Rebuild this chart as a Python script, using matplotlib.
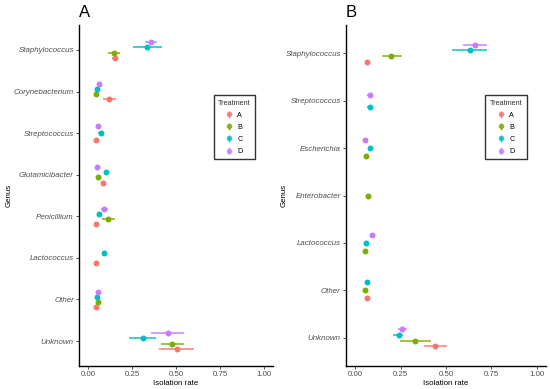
import numpy as np
import matplotlib
matplotlib.use("Agg")
import matplotlib.pyplot as plt

plt.rcParams['font.family'] = ['Liberation Sans', 'DejaVu Sans']

treatments = ['A', 'B', 'C', 'D']
colors = ['#F8766D', '#7CAE00', '#00BFC4', '#C77CFF']
nan = np.nan

# Panel A (top to bottom)
genera_a = ['Staphylococcus', 'Corynebacterium', 'Streptococcus', 'Glutamicibacter',
            'Penicillium', 'Lactococcus', 'Other', 'Unknown']
mean_a = {
    'A': [0.155, 0.121, 0.045, 0.089, 0.045, 0.045, 0.045, 0.504],
    'B': [0.146, 0.049, nan, 0.059, 0.115, nan, 0.055, 0.479],
    'C': [0.337, 0.051, 0.072, 0.106, 0.061, 0.093, 0.053, 0.312],
    'D': [0.358, 0.061, 0.055, 0.051, 0.093, nan, 0.059, 0.453],
}
lo_a = {
    'A': [0.140, 0.087, 0.045, 0.089, 0.045, 0.045, 0.045, 0.403],
    'B': [0.112, 0.049, nan, 0.059, 0.081, nan, 0.055, 0.415],
    'C': [0.258, 0.051, 0.057, 0.106, 0.061, 0.093, 0.053, 0.235],
    'D': [0.323, 0.061, 0.055, 0.051, 0.072, nan, 0.059, 0.358],
}
hi_a = {
    'A': [0.172, 0.159, 0.045, 0.089, 0.045, 0.045, 0.045, 0.604],
    'B': [0.184, 0.049, nan, 0.059, 0.152, nan, 0.055, 0.547],
    'C': [0.420, 0.051, 0.093, 0.106, 0.061, 0.093, 0.053, 0.388],
    'D': [0.393, 0.061, 0.055, 0.051, 0.112, nan, 0.059, 0.544],
}

# Panel B (top to bottom)
genera_b = ['Staphylococcus', 'Streptococcus', 'Escherichia', 'Enterobacter',
            'Lactococcus', 'Other', 'Unknown']
mean_b = {
    'A': [0.066, nan, nan, nan, nan, 0.064, 0.441],
    'B': [0.200, nan, 0.060, 0.073, 0.053, 0.055, 0.330],
    'C': [0.630, 0.080, 0.082, nan, 0.058, 0.066, 0.239],
    'D': [0.657, 0.080, 0.053, nan, 0.091, nan, 0.260],
}
lo_b = {
    'A': [0.066, nan, nan, nan, nan, 0.064, 0.377],
    'B': [0.146, nan, 0.060, 0.073, 0.053, 0.055, 0.246],
    'C': [0.534, 0.068, 0.074, nan, 0.058, 0.066, 0.206],
    'D': [0.592, 0.068, 0.053, nan, 0.082, nan, 0.235],
}
hi_b = {
    'A': [0.066, nan, nan, nan, nan, 0.064, 0.504],
    'B': [0.259, nan, 0.060, 0.073, 0.053, 0.055, 0.415],
    'C': [0.725, 0.092, 0.090, nan, 0.058, 0.066, 0.266],
    'D': [0.725, 0.092, 0.053, nan, 0.100, nan, 0.288],
}


def draw_panel(ax, genera, mean, lo, hi, letter, legend_pos, ylab_x):
    n_gen = len(genera)
    base = np.arange(n_gen)[::-1]  # top genus gets the highest y
    for i in range(n_gen):
        present = [t for t in treatments if not np.isnan(mean[t][i])]
        n = len(present)
        for k, t in enumerate(present):
            y = base[i] + (k - (n - 1) / 2) * 0.5 / n
            c = colors[treatments.index(t)]
            ax.plot([lo[t][i], hi[t][i]], [y, y], color=c, lw=1.4, alpha=0.75,
                    solid_capstyle='butt')
            ax.plot(mean[t][i], y, 'o', color=c, ms=4.3, mec='none')
    ax.set_xlim(-0.05, 1.05)
    ax.set_ylim(-0.6, n_gen - 0.4)
    ax.set_xticks([0, 0.25, 0.5, 0.75, 1.0])
    ax.set_xticklabels(['0.00', '0.25', '0.50', '0.75', '1.00'])
    ax.set_yticks(base)
    ax.set_yticklabels(genera, style='italic')
    ax.tick_params(axis='both', labelsize=5.7, colors='#333333', length=2.5,
                   width=0.6, pad=1.2)
    ax.tick_params(axis='both', labelcolor='#4d4d4d')
    for s in ['top', 'right']:
        ax.spines[s].set_visible(False)
    for s in ['left', 'bottom']:
        ax.spines[s].set_linewidth(1.0)
        ax.spines[s].set_color('black')
    ax.set_xlabel('Isolation rate', fontsize=5.7, labelpad=1.0)
    ax.set_ylabel('Genus', fontsize=5.7)
    ax.yaxis.set_label_coords(ylab_x, 0.5)
    ax.text(0.0, 1.015, letter, transform=ax.transAxes, fontsize=12,
            ha='left', va='bottom')
    # legend with vertical error-bar keys like ggplot
    handles = []
    for t, c in zip(treatments, colors):
        h = ax.errorbar([nan], [nan], yerr=[1], fmt='o', color=c, ms=4,
                        mec='none', elinewidth=0.9, ecolor=c, alpha=0.85)
        handles.append(h)
    leg = ax.legend(handles, treatments, title='Treatment', loc='center',
                    bbox_to_anchor=legend_pos, fontsize=5.2, title_fontsize=5.2,
                    frameon=True, fancybox=False, handlelength=1.0,
                    handletextpad=0.6, labelspacing=0.7, borderpad=0.6)
    leg.get_frame().set_edgecolor('black')
    leg.get_frame().set_linewidth(1.0)
    leg.get_title().set_color('#333333')


fig = plt.figure(figsize=(5.5, 3.89), dpi=100)
ax_a = fig.add_axes([0.1436, 0.0591, 0.3528, 0.8766])
ax_b = fig.add_axes([0.629, 0.0591, 0.3637, 0.8766])

draw_panel(ax_a, genera_a, mean_a, lo_a, hi_a, 'A', (0.80, 0.70), -0.34)
draw_panel(ax_b, genera_b, mean_b, lo_b, hi_b, 'B', (0.80, 0.70), -0.29)

fig.savefig('out.png', dpi=100)
